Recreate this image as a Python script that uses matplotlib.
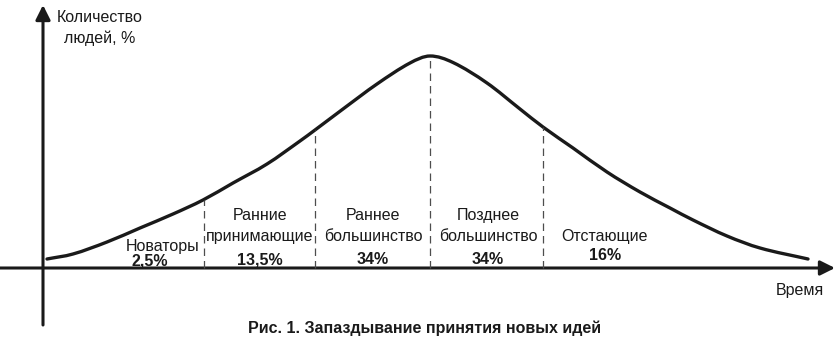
import matplotlib
matplotlib.use("Agg")
import matplotlib.pyplot as plt
from matplotlib.patches import FancyArrowPatch, PathPatch
from matplotlib.path import Path

plt.rcParams['font.family'] = ['Liberation Sans', 'DejaVu Sans']

# Curve (x: time units, y: share of people, arbitrary units)
curve_x = [4, 30, 64, 97, 130, 160, 190, 224, 257, 272, 300, 334, 367, 387,
           410, 444, 477, 500, 530, 564, 597, 627, 650, 684, 717, 765]
curve_y = [9, 14, 26, 40, 54, 68, 85, 104, 127, 138, 159, 184, 205, 212,
           205.5, 185, 159, 141, 120, 96, 76, 60, 48, 32, 20, 9]

# Group boundaries (x) and curve height at each boundary
bound_x = [161, 272, 387, 500]
bound_y = [68, 138, 212, 141]

groups = ["Новаторы", "Ранние\nпринимающие", "Раннее\nбольшинство",
          "Позднее\nбольшинство", "Отстающие"]
shares = ["2,5%", "13,5%", "34%", "34%", "16%"]

W, H = 836, 344
fig = plt.figure(figsize=(W / 100, H / 100), dpi=100)
ax = fig.add_axes([0, 0, 1, 1])
ax.set_xlim(-43, W - 43)
ax.set_ylim(268 - H, 268)
ax.axis('off')

ink = '#1a1a1a'

# axes arrows
ax.add_patch(FancyArrowPatch((-43, 0), (792, 0), arrowstyle='-|>', mutation_scale=22,
                             lw=2.2, color=ink, shrinkA=0, shrinkB=0))
ax.add_patch(FancyArrowPatch((0, -57), (0, 263), arrowstyle='-|>', mutation_scale=22,
                             lw=2.2, color=ink, shrinkA=0, shrinkB=0))

# dashed boundaries
for bx, by in zip(bound_x, bound_y):
    ax.plot([bx, bx], [0, by], color='#4d4d4d', lw=0.9, ls=(0, (6, 4)))

# smooth curve through the read points (cubic Hermite -> Bezier segments)
n = len(curve_x)
slopes = []
for i in range(n):
    a = max(i - 1, 0)
    b = min(i + 1, n - 1)
    slopes.append((curve_y[b] - curve_y[a]) / (curve_x[b] - curve_x[a]))
verts = [(curve_x[0], curve_y[0])]
codes = [Path.MOVETO]
for i in range(n - 1):
    h = curve_x[i + 1] - curve_x[i]
    c1 = (curve_x[i] + h / 3, curve_y[i] + slopes[i] * h / 3)
    c2 = (curve_x[i + 1] - h / 3, curve_y[i + 1] - slopes[i + 1] * h / 3)
    verts += [c1, c2, (curve_x[i + 1], curve_y[i + 1])]
    codes += [Path.CURVE4] * 3
ax.add_patch(PathPatch(Path(verts, codes), fill=False, edgecolor=ink, lw=2.4,
                       capstyle='round'))

fs = 11.5
# group labels
ax.text(120, 22, groups[0], ha='center', va='center', fontsize=fs, color=ink)
ax.text(107, 7, shares[0], ha='center', va='center', fontsize=fs, fontweight='bold', color=ink)

label_pos = [(217, 42), (330, 42), (445, 42), (562, 31)]
for (lx, ly), g, s in zip(label_pos, groups[1:], shares[1:]):
    ax.text(lx, ly, g, ha='center', va='center', fontsize=fs, color=ink, linespacing=1.5)
    ax.text(lx, ly - 34 if '\n' in g else ly - 19, s, ha='center', va='center',
            fontsize=fs, fontweight='bold', color=ink)

ax.text(57, 240, "Количество\nлюдей, %", ha='center', va='center', fontsize=fs,
        color=ink, linespacing=1.45)
ax.text(757, -22, "Время", ha='center', va='center', fontsize=fs, color=ink)
ax.text(382, -60, "Рис. 1. Запаздывание принятия новых идей", ha='center', va='center',
        fontsize=fs, fontweight='bold', color=ink)

fig.savefig('out.png', dpi=100)
